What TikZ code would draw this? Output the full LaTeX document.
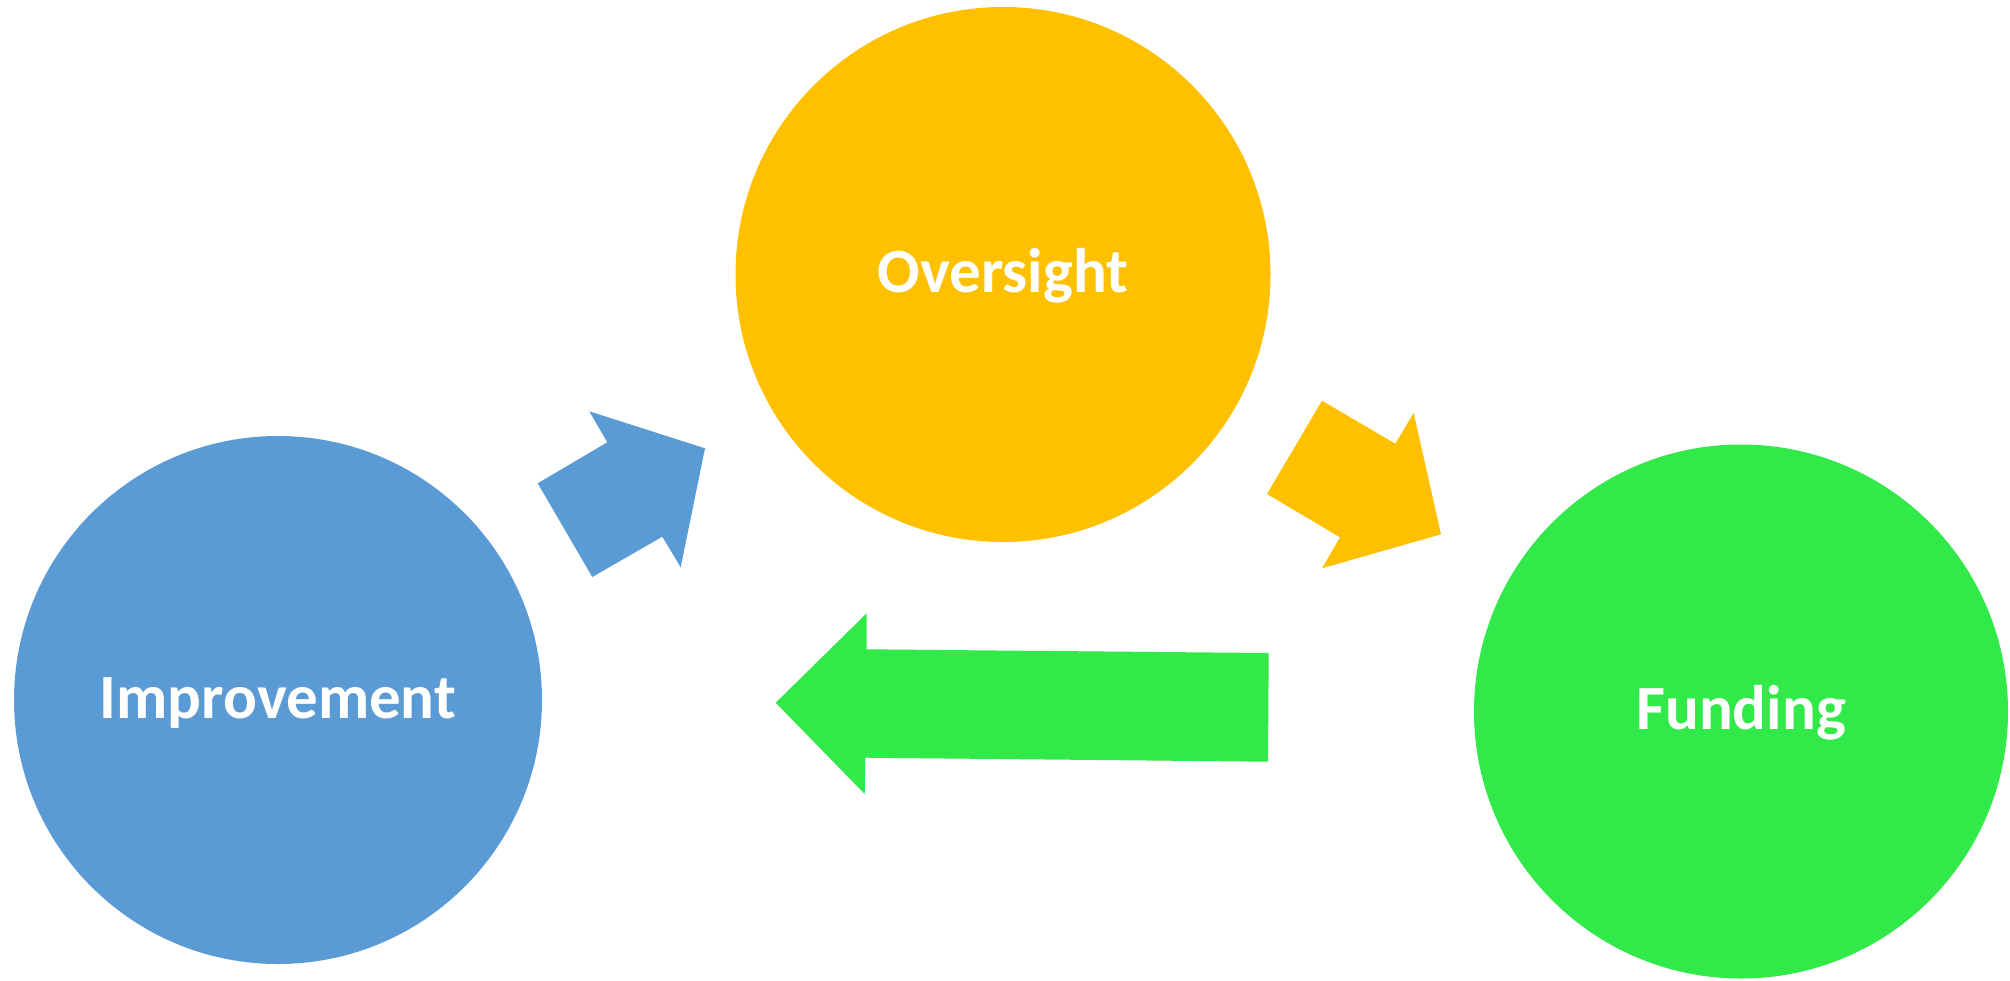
\documentclass[tikz,border=0pt]{standalone}
\usepackage{fontspec}
\setmainfont{Carlito}
\definecolor{cblue}{HTML}{5B9BD5}
\definecolor{cyellow}{HTML}{FFC000}
\definecolor{cgreen}{RGB}{50,233,74}
\tikzset{
  bubble/.style={circle, inner sep=0pt, text=white,
    font=\fontsize{63}{70}\selectfont\bfseries,
    text height=46pt, text depth=10pt},
  blockarrow/.style={draw=none}
}
\begin{document}
\begin{tikzpicture}[x=1pt,y=-1pt]
\useasboundingbox (0,0) rectangle (2010,980);
% circles
\node[bubble, fill=cblue, minimum size=528pt] (imp) at (278,700) {Improvement};
\node[bubble, fill=cyellow, minimum size=535pt] (ovs) at (1003,274.5) {Oversight};
\node[bubble, fill=cgreen, minimum size=534pt] (fund) at (1741,711.5) {Funding};
% blue arrow (Improvement -> Oversight)
\fill[cblue, blockarrow] (537.7,483.3) -- (607.3,442.3) -- (589.3,411.3) -- (705,448.3)
  -- (680.7,567.3) -- (662.3,536.7) -- (592.3,577) -- cycle;
% yellow arrow (Oversight -> Funding)
\fill[cyellow, blockarrow] (1322,400.7) -- (1395.3,443.7) -- (1413.7,413) -- (1441,534.3)
  -- (1322,568.3) -- (1340,537.3) -- (1267,494) -- cycle;
% green arrow (Funding -> Improvement)
\fill[cgreen, blockarrow] (1268.7,653) -- (866.7,649.3) -- (866.7,613.3) -- (775.7,702.7)
  -- (864.7,794) -- (865.3,757.7) -- (1268,761.7) -- cycle;
\end{tikzpicture}
\end{document}
